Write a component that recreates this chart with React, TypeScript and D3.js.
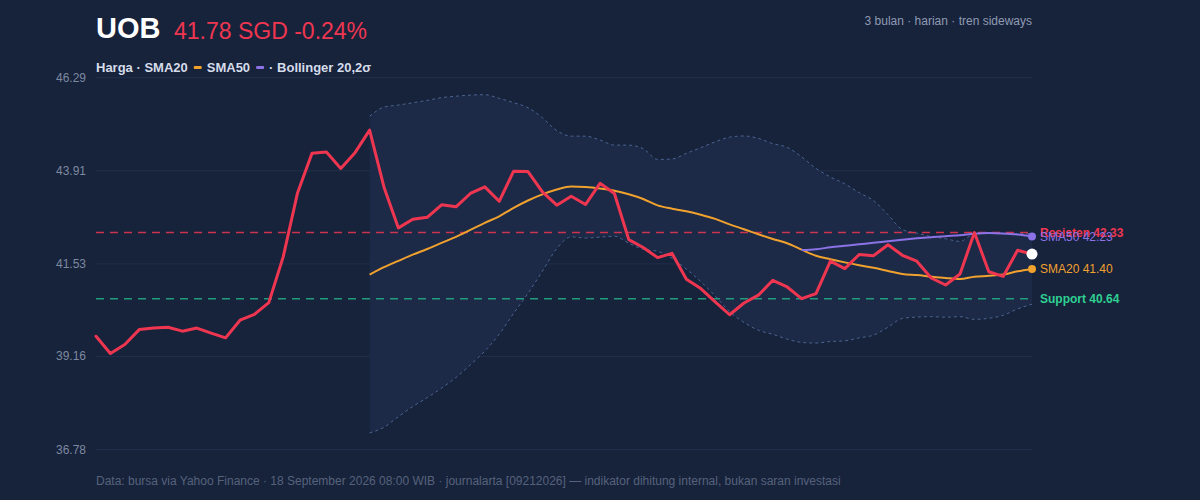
import * as d3 from 'd3';
import { useEffect, useRef } from 'react';

// harga penutupan harian UOB (SGD), 66 sesi
const closes = [
    39.68, 39.24, 39.47, 39.85, 39.89, 39.91, 39.81, 39.89, 39.76, 39.64,
    40.09, 40.24, 40.54, 41.71, 43.35, 44.36, 44.39, 43.97, 44.38, 44.95,
    43.49, 42.45, 42.67, 42.72, 43.04, 42.99, 43.33, 43.50, 43.13, 43.90,
    43.89, 43.37, 43.03, 43.26, 43.05, 43.59, 43.33, 42.15, 41.95, 41.69,
    41.80, 41.14, 40.90, 40.56, 40.23, 40.53, 40.73, 41.11, 40.94, 40.64,
    40.77, 41.60, 41.41, 41.77, 41.74, 42.02, 41.75, 41.60, 41.17, 40.99,
    41.27, 42.33, 41.33, 41.21, 41.88, 41.78
];
const yTicks = [36.78, 39.16, 41.53, 43.91, 46.29];
const yDomain = [36.78, 46.29];
const ticker = 'UOB';
const currency = 'SGD';
const subtitle = '3 bulan · harian · tren sideways';
const legendParts = ['Harga · SMA20', 'SMA50', '· Bollinger 20,2σ'];
const footer = 'Data: bursa via Yahoo Finance · 18 September 2026 08:00 WIB · journalarta [09212026] — indikator dihitung internal, bukan saran investasi';

const C = {
    bg: '#17223b',
    band: '#1c2a47',
    bandEdge: '#4a6390',
    grid: '#222f4a',
    price: '#ef3651',
    sma20: '#f0a12e',
    sma50: '#8b72e6',
    res: '#e0354f',
    sup: '#22a982',
    supText: '#2ed192',
    axis: '#7d89a0',
    sub: '#8f9bb3',
    legend: '#d5dcea',
    foot: '#56627c'
};

const sma = (n: number) => closes.map((_, i) => i < n - 1 ? null : d3.mean(closes.slice(i - n + 1, i + 1)) as number);
const boll = () => closes.map((_, i) => {
    if (i < 19) return null;
    const w = closes.slice(i - 19, i + 1);
    const m = d3.mean(w) as number;
    const sd = Math.sqrt(d3.mean(w.map(v => (v - m) ** 2)) as number);
    return { i, up: m + 2 * sd, lo: m - 2 * sd };
});

export default function App() {
    const ref = useRef<any>();
    const W = 1200, H = 500;
    const m = { top: 77.7, right: 168, bottom: 50.3, left: 96 };

    useEffect(() => {
        const svg = d3.select(ref.current);
        svg.selectAll('*').remove();
        svg.attr('width', W).attr('height', H).style('font-family', '"Liberation Sans", Arial, sans-serif');
        svg.append('rect').attr('width', W).attr('height', H).attr('fill', C.bg);

        const x = d3.scaleLinear().domain([0, closes.length - 1]).range([m.left, W - m.right]);
        const y = d3.scaleLinear().domain(yDomain).range([H - m.bottom, m.top]);
        const s20 = sma(20), s50 = sma(50), bb = boll().filter(Boolean) as any[];
        const last = closes[closes.length - 1], prev = closes[closes.length - 2];
        const chg = (last / prev - 1) * 100;
        const recent = closes.slice(-20);
        const resist = d3.max(recent) as number, support = d3.min(recent) as number;

        // grid + y labels
        const g = svg.append('g');
        g.selectAll('line').data(yTicks).join('line')
            .attr('x1', m.left).attr('x2', W - m.right)
            .attr('y1', d => y(d)).attr('y2', d => y(d))
            .attr('stroke', C.grid).attr('stroke-width', 1);
        g.selectAll('text').data(yTicks).join('text')
            .attr('x', 86).attr('y', d => y(d)).attr('dy', '0.32em')
            .attr('text-anchor', 'end').attr('font-size', 12).attr('fill', C.axis)
            .text(d => d.toFixed(2));

        // bollinger band
        const area = d3.area<any>().x(d => x(d.i)).y0(d => y(d.lo)).y1(d => y(d.up)).curve(d3.curveMonotoneX);
        svg.append('path').attr('d', area(bb)).attr('fill', C.band);
        ['up', 'lo'].forEach(k => {
            svg.append('path')
                .attr('d', d3.line<any>().x(d => x(d.i)).y(d => y(d[k])).curve(d3.curveMonotoneX)(bb))
                .attr('fill', 'none').attr('stroke', C.bandEdge).attr('stroke-width', 1).attr('stroke-dasharray', '3,3');
        });

        // support / resistance
        [[resist, C.res], [support, C.sup]].forEach(([v, c]: any) => {
            svg.append('line').attr('x1', m.left).attr('x2', W - m.right)
                .attr('y1', y(v)).attr('y2', y(v))
                .attr('stroke', c).attr('stroke-width', 1.5).attr('stroke-dasharray', '8,6').attr('opacity', 0.9);
        });

        // moving averages
        const maLine = d3.line<any>().defined(d => d != null).x((_, i) => x(i)).y(d => y(d)).curve(d3.curveMonotoneX);
        svg.append('path').attr('d', maLine(s20)).attr('fill', 'none').attr('stroke', C.sma20).attr('stroke-width', 2);
        svg.append('path').attr('d', maLine(s50)).attr('fill', 'none').attr('stroke', C.sma50).attr('stroke-width', 2);

        // price
        svg.append('path')
            .attr('d', d3.line<number>().x((_, i) => x(i)).y(d => y(d))(closes))
            .attr('fill', 'none').attr('stroke', C.price).attr('stroke-width', 3)
            .attr('stroke-linejoin', 'round').attr('stroke-linecap', 'round');

        const xe = x(closes.length - 1);
        const e20 = s20[s20.length - 1] as number, e50 = s50[s50.length - 1] as number;
        svg.append('circle').attr('cx', xe).attr('cy', y(e50)).attr('r', 4).attr('fill', C.sma50);
        svg.append('circle').attr('cx', xe).attr('cy', y(e20)).attr('r', 4).attr('fill', C.sma20);
        svg.append('circle').attr('cx', xe).attr('cy', y(last)).attr('r', 5.5).attr('fill', '#ffffff');

        // right-hand labels
        const lab = (v: number, t: string, c: string, bold: boolean) => svg.append('text')
            .attr('x', 1040).attr('y', y(v)).attr('dy', '0.35em').attr('font-size', 12)
            .attr('font-weight', bold ? 'bold' : 'normal').attr('fill', c).text(t);
        lab(resist, `Resisten ${resist.toFixed(2)}`, C.price, true);
        lab(e50, `SMA50 ${e50.toFixed(2)}`, C.sma50, false);
        lab(e20, `SMA20 ${e20.toFixed(2)}`, C.sma20, false);
        lab(support, `Support ${support.toFixed(2)}`, C.supText, true);

        // header
        svg.append('text').attr('x', 96).attr('y', 38).attr('font-size', 29).attr('font-weight', 'bold')
            .attr('fill', '#ffffff').text(ticker);
        svg.append('text').attr('x', 174).attr('y', 39).attr('font-size', 23).attr('fill', C.price)
            .text(`${last.toFixed(2)} ${currency} ${chg.toFixed(2)}%`);
        svg.append('text').attr('x', W - m.right).attr('y', 25).attr('text-anchor', 'end')
            .attr('font-size', 12).attr('fill', C.sub).text(subtitle);

        // legend
        let lx = 96;
        const swatch = [C.sma20, C.sma50];
        legendParts.forEach((t, i) => {
            const el = svg.append('text').attr('x', lx).attr('y', 72).attr('font-size', 13)
                .attr('font-weight', 'bold').attr('fill', C.legend).text(t);
            lx += (el.node() as any).getComputedTextLength();
            if (swatch[i]) {
                svg.append('rect').attr('x', lx + 6).attr('y', 66).attr('width', 8).attr('height', 3)
                    .attr('rx', 1).attr('fill', swatch[i]);
                lx += 6 + 8 + 5;
            }
        });

        svg.append('text').attr('x', 96).attr('y', 485).attr('font-size', 12).attr('fill', C.foot).text(footer);
    }, []);

    return (
        <svg ref={ref} style={{ position: 'absolute', left: 0, top: 0, display: 'block' }}></svg>
    );
}
